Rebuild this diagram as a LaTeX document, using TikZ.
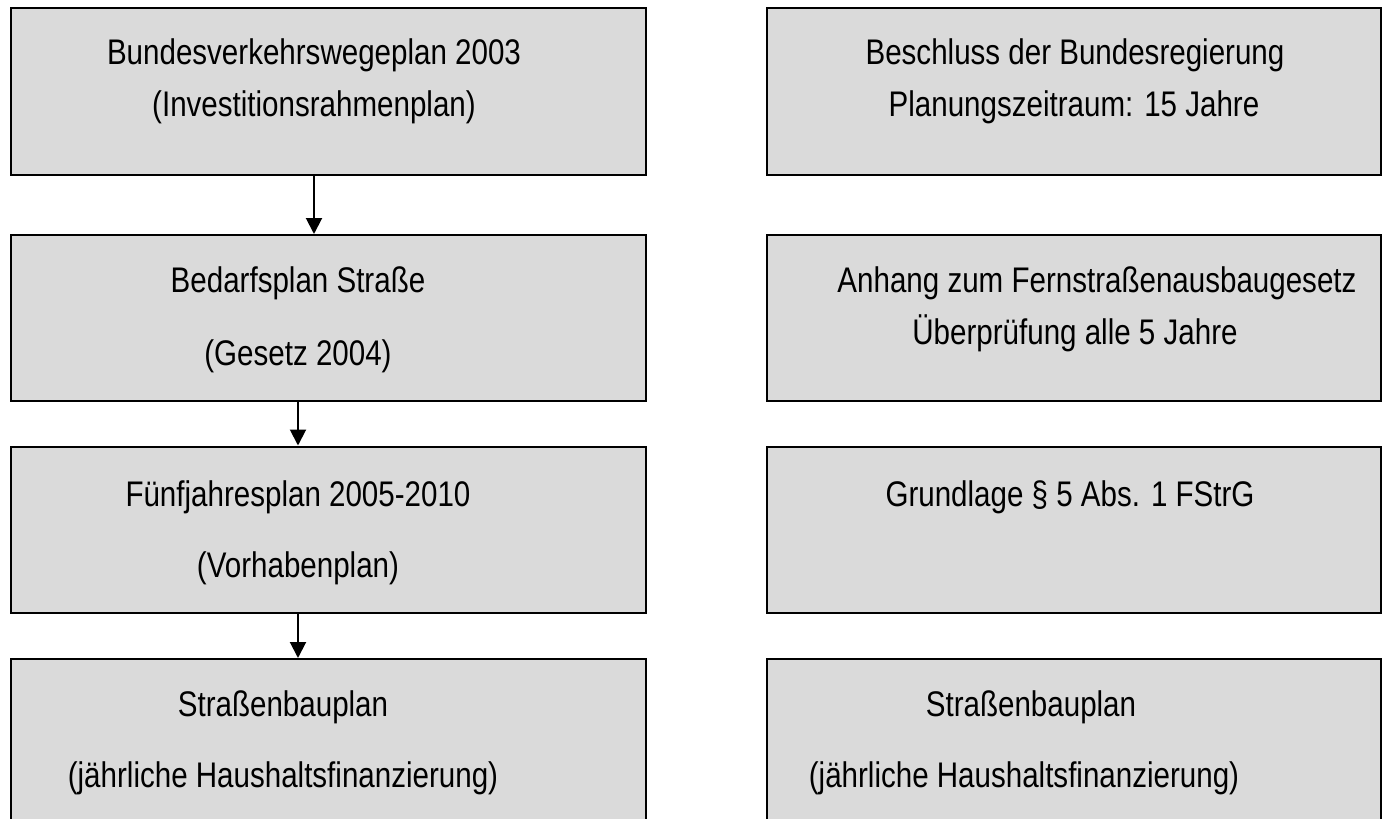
\documentclass[tikz,border=0pt]{standalone}
\usepackage{fontspec}
\setmainfont[FakeStretch=0.83]{Liberation Sans}
\usetikzlibrary{arrows.meta}
\definecolor{boxgray}{RGB}{218,218,218}

\begin{document}
\begin{tikzpicture}[x=0.5pt, y=-0.5pt, >={Triangle[width=8pt,length=8pt]},
  font=\fontsize{17.8}{20}\selectfont,
  box/.style={draw, line width=1pt, fill=boxgray, anchor=north west, inner sep=0pt},
  lbox/.style={box, minimum width=317.5pt},
  rbox/.style={box, minimum width=307pt},
  txt/.style={inner sep=0pt, text height=0.75em, text depth=0.25em}]
\useasboundingbox (0,0) rectangle (1383,819);
\clip (0,0) rectangle (1383,819);
% --- left column: planning steps ---
\node[lbox, minimum height=83.5pt] (bvwp) at (10,7) {};
\node[txt] (bvwpA) at (314,59) {Bundesverkehrswegeplan 2003};
\node[txt] (bvwpB) at (314,111) {(Investitionsrahmenplan)};
\node[lbox, minimum height=83pt] (bedarf) at (10,234) {};
\node[txt] (bedarfA) at (298,287) {Bedarfsplan Straße};
\node[txt] (bedarfB) at (298,360) {(Gesetz 2004)};
\node[lbox, minimum height=83.25pt] (fjp) at (10,445.5) {};
\node[txt] (fjpA) at (298,501) {Fünfjahresplan 2005-2010};
\node[txt] (fjpB) at (298,572) {(Vorhabenplan)};
\node[lbox, minimum height=90pt] (sbp) at (10,658) {};
\node[txt] (sbpA) at (283,711) {Straßenbauplan};
\node[txt] (sbpB) at (283,782) {(jährliche Haushaltsfinanzierung)};
% arrows between the steps
\draw[->, line width=1pt] (bvwp.south -| bvwpA) -- (bedarf.north -| bvwpA);
\draw[->, line width=1pt] (bedarf.south -| bedarfA) -- (fjp.north -| bedarfA);
\draw[->, line width=1pt] (fjp.south -| fjpA) -- (sbp.north -| fjpA);
% --- right column: remarks ---
\node[rbox, minimum height=83.5pt] (beschl) at (766,7) {};
\node[txt] (beschlA) at (1075,59) {Beschluss der Bundesregierung};
\node[txt] (beschlB) at (1074,111) {Planungszeitraum: 15 Jahre};
\node[rbox, minimum height=83pt] (anhang) at (766,234) {};
\node[txt] (anhangA) at (1097,287) {Anhang zum Fernstraßenausbaugesetz};
\node[txt] (anhangB) at (1075,339) {Überprüfung alle 5 Jahre};
\node[rbox, minimum height=83.25pt] (grundl) at (766,445.5) {};
\node[txt] (grundlA) at (1070,501) {Grundlage § 5 Abs. 1 FStrG};
\node[rbox, minimum height=90pt] (rsbp) at (766,658) {};
\node[txt] (rsbpA) at (1031,711) {Straßenbauplan};
\node[txt] (rsbpB) at (1024,782) {(jährliche Haushaltsfinanzierung)};
\end{tikzpicture}
\end{document}
